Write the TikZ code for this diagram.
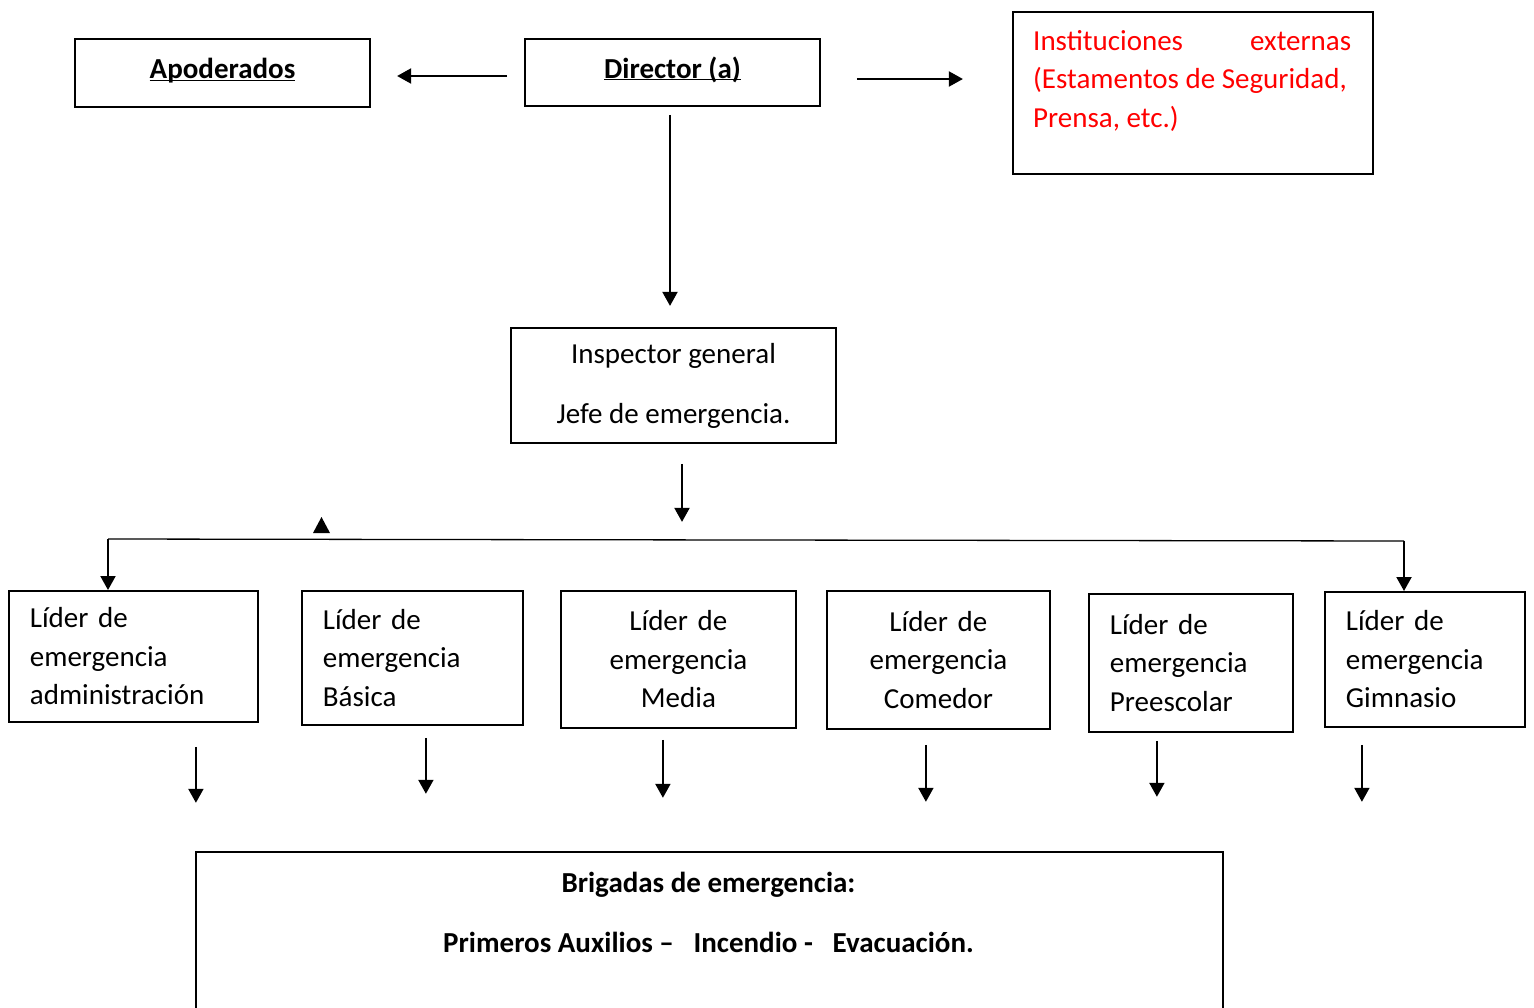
\documentclass[tikz,border=0pt]{standalone}
\usepackage{fontspec}
\setmainfont{Carlito}
\usetikzlibrary{arrows.meta}
\newcommand{\ulbox}[1]{\underline{\smash{#1}}}

\begin{document}
\begin{tikzpicture}[x=1pt,y=-1pt,
  font=\fontsize{29}{38.5}\selectfont,
  box/.style={draw, line width=1.8pt, inner sep=0pt},
  leader/.style={draw, line width=1.8pt, anchor=north west, inner xsep=21pt, inner ysep=0pt},
  arr/.style={line width=2pt, -{Triangle[length=14pt,width=15pt]}}]
\useasboundingbox (0,0) rectangle (1534,1007);
 % top row
 \node (apo) [box, minimum width=295pt, minimum height=68pt, text height=20pt, text depth=9pt] at (222.5,73) {\ulbox{\textbf{Apoderados}}};
 \node (dir) [box, minimum width=295pt, minimum height=67pt, text height=20pt, text depth=9pt] at (672.5,72.5) {\ulbox{\textbf{Director (a)}}};
 \node (inst) [box, anchor=north west, minimum width=360pt, minimum height=162pt] at (1012,11) {};
 \node (insttext) [anchor=north west, inner sep=0pt, align=left, color=red] at (1033,30)
   {\makebox[318pt][l]{Instituciones\hfill externas}\\(Estamentos de Seguridad,\\Prensa, etc.)};
 \draw [arr] ([xshift=-17pt,yshift=-3.5pt]dir.west) -- ++(-110,0);
 \draw [arr] ([xshift=36pt,yshift=-6.5pt]dir.east) -- ++(106,0);
 \draw [arr] ([xshift=-2.5pt,yshift=-8pt]dir.south) -- ++(0,191);
 % inspector
 \node (insp) [box, minimum width=325pt, minimum height=115pt, align=center] at (673.5,385.5)
   {Inspector general\\[21.5pt]Jefe de emergencia.};
 \draw [arr] ([xshift=8.5pt,yshift=-20pt]insp.south) -- ++(0,58);
 \fill (313,533) -- (321.5,517) -- (330,533) -- cycle;
 % leaders
 \node (l1) [leader, minimum width=249pt, minimum height=131pt, text width=207pt, align=left] at (8,590) {Líder de\\emergencia\\administración};
 \node (l2) [leader, minimum width=221pt, minimum height=134pt, text width=179pt, align=left] at (301,590) {Líder de\\emergencia\\Básica};
 \node (l3) [leader, minimum width=235pt, minimum height=137pt, text width=193pt, align=center] at (560,590) {Líder de\\emergencia\\Media};
 \node (l4) [leader, minimum width=223pt, minimum height=138pt, text width=181pt, align=center] at (826,590) {Líder de\\emergencia\\Comedor};
 \node (l5) [leader, minimum width=204pt, minimum height=138pt, text width=162pt, align=left] at (1088,593) {Líder de\\emergencia\\Preescolar};
 \node (l6) [leader, minimum width=200pt, minimum height=135pt, text width=158pt, align=left] at (1324,591) {Líder de\\emergencia\\Gimnasio};
 % branch line
 \coordinate (bl) at (108,539);
 \coordinate (br) at (1404,541);
 \draw [line width=1.3pt] (bl) -- (br);
 \draw [arr] (bl) -- (bl |- l1.north);
 \draw [arr] (br) -- (br |- l6.north);
 % brigades
 \node (brig) [box, anchor=north west, minimum width=1027pt, minimum height=170pt] at (195,851) {};
 \node (brigtext) [align=center, font=\fontsize{29}{38.5}\selectfont\bfseries] at (708.5,912)
   {Brigadas de emergencia:\\[21.5pt]Primeros Auxilios –~~~Incendio -~~~Evacuación.};
 \foreach \n/\dx/\gap/\len in {l1/62.5/24/56, l2/13.5/12/56, l3/-15.5/11/58, l4/-12.5/15/57, l5/-34/8/56, l6/-63/17/57}
   \draw [arr] ([xshift=\dx pt,yshift=-\gap pt]\n.south) -- ++(0,\len);
\end{tikzpicture}
\end{document}
